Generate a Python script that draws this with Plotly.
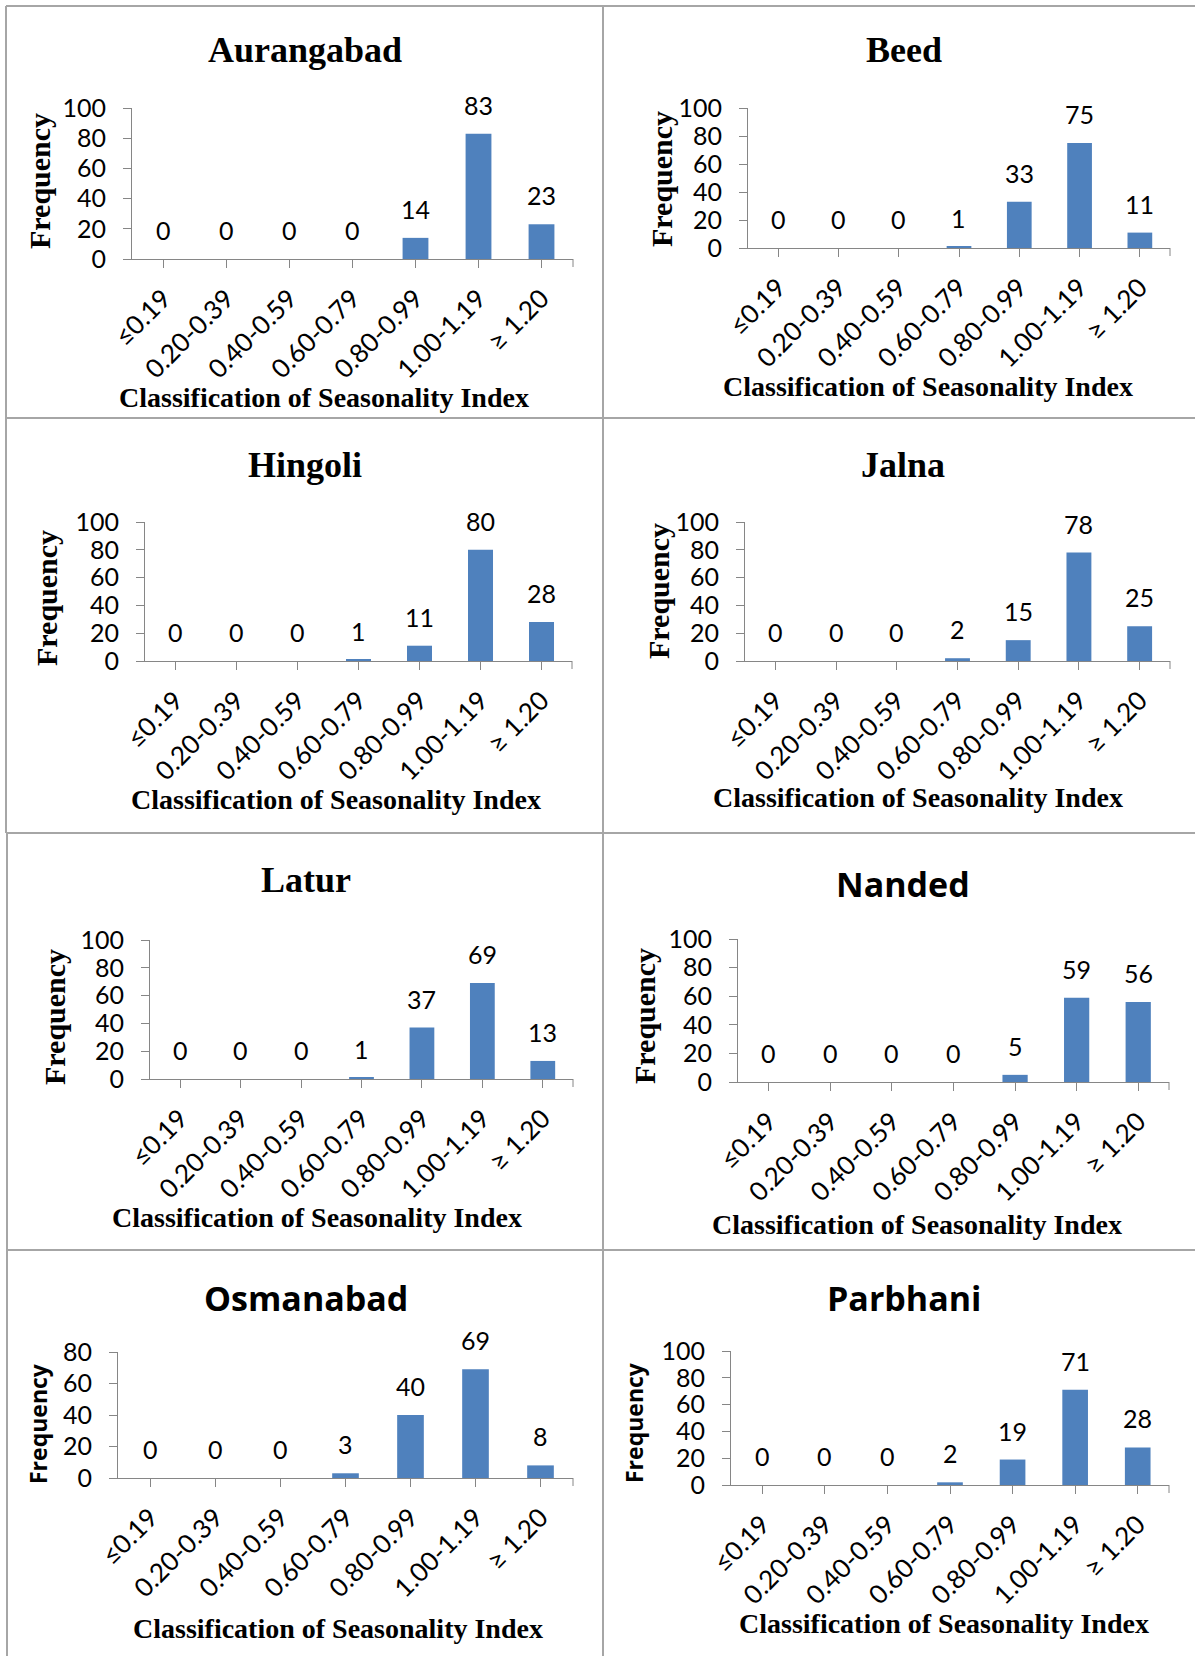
import plotly.graph_objects as go

# ---- data -------------------------------------------------------------
categories = ["≤0.19", "0.20-0.39", "0.40-0.59", "0.60-0.79",
              "0.80-0.99", "1.00-1.19", "≥ 1.20"]

districts = ["Aurangabad", "Beed", "Hingoli", "Jalna",
             "Latur", "Nanded", "Osmanabad", "Parbhani"]

aurangabad = [0, 0, 0, 0, 14, 83, 23]
beed = [0, 0, 0, 1, 33, 75, 11]
hingoli = [0, 0, 0, 1, 11, 80, 28]
jalna = [0, 0, 0, 2, 15, 78, 25]
latur = [0, 0, 0, 1, 37, 69, 13]
nanded = [0, 0, 0, 0, 5, 59, 56]
osmanabad = [0, 0, 0, 3, 40, 69, 8]
parbhani = [0, 0, 0, 2, 19, 71, 28]

series = [aurangabad, beed, hingoli, jalna, latur, nanded, osmanabad, parbhani]
y_max = [100, 100, 100, 100, 100, 100, 80, 100]

x_title = "Classification of Seasonality Index"
y_title = "Frequency"

# ---- page geometry (pixels) ------------------------------------------
W, H = 1195, 1656

# plot area per panel: left, right, top (y max), bottom (y = 0)
plot_box = [
    (132, 573, 108, 259),
    (748, 1170, 108, 248),
    (145, 572, 522, 661),
    (745, 1170, 522, 661),
    (150, 573, 940, 1079),
    (738, 1169, 939, 1082),
    (118, 573, 1352, 1478),
    (731, 1169, 1351, 1485),
]
# centre of panel title, y-title, x-title
title_pos = [(305, 50), (904, 50), (305, 465), (903, 465),
             (306, 880), (903, 884), (306, 1298), (904, 1298)]
ytitle_pos = [(39, 181), (661, 179), (46, 598), (659, 591),
              (55, 1017), (645, 1016), (38, 1424), (634, 1423)]
xtitle_pos = [(324, 397), (928, 386), (336, 800), (918, 798),
              (317, 1217), (917, 1224), (338, 1628), (944, 1623)]
sans_title = [False, False, False, False, False, True, True, True]
sans_ytitle = [False, False, False, False, False, False, True, True]

SERIF = "Liberation Serif"
SANS = "Lato"
SANS_BOLD = "Open Sans"
BAR = "#4F81BD"
AXIS = "#868686"
RULE = "#a6a6a6"


def px(x):
    return x / W


def py(y):
    return 1 - y / H


fig = go.Figure()
annotations = []
shapes = []
layout = {}

for i, (name, vals) in enumerate(zip(districts, series)):
    suf = "" if i == 0 else str(i + 1)
    xa, ya = "x" + suf, "y" + suf
    l, r, t, b = plot_box[i]

    fig.add_trace(go.Bar(
        x=categories, y=vals, xaxis=xa, yaxis=ya,
        marker=dict(color=BAR, line=dict(width=0)),
        width=0.41, showlegend=False, hoverinfo="skip",
    ))

    layout["xaxis" + suf] = dict(
        domain=[px(l), px(r)], anchor=ya, automargin=False,
        type="category", range=[-0.5, 6.5],
        showline=True, linecolor=AXIS, linewidth=1,
        ticks="outside", ticklen=8, tickcolor=AXIS, tickwidth=1,
        tickangle=-45, ticklabelstandoff=5,
        tickfont=dict(family=SANS, size=26, color="#000000"),
        showgrid=False, zeroline=False, fixedrange=True,
    )
    layout["yaxis" + suf] = dict(
        domain=[py(b), py(t)], anchor=xa, automargin=False,
        range=[0, y_max[i]], dtick=20, tick0=0,
        showline=True, linecolor=AXIS, linewidth=1,
        ticks="outside", ticklen=8, tickcolor=AXIS, tickwidth=1,
        ticklabelstandoff=12,
        tickfont=dict(family=SANS, size=25, color="#000000"),
        showgrid=False, zeroline=False, fixedrange=True,
    )

    # closing tick at the right end of the category axis
    shapes.append(dict(type="line", xref="paper", yref="paper",
                       x0=px(r), x1=px(r), y0=py(b), y1=py(b + 8),
                       line=dict(color=AXIS, width=1)))

    # value labels above each bar
    for c, v in zip(categories, vals):
        annotations.append(dict(
            x=c, y=v, xref=xa, yref=ya, text=str(v), showarrow=False,
            yanchor="middle", yshift=29,
            font=dict(family=SANS, size=25, color="#000000"),
        ))

    # panel title
    tx, ty = title_pos[i]
    annotations.append(dict(
        x=px(tx), y=py(ty), xref="paper", yref="paper",
        text="<b>%s</b>" % name, showarrow=False,
        xanchor="center", yanchor="middle",
        font=dict(family=SANS_BOLD if sans_title[i] else SERIF,
                  size=34 if sans_title[i] else 36, color="#000000"),
    ))
    # y-axis title
    yx, yy = ytitle_pos[i]
    annotations.append(dict(
        x=px(yx), y=py(yy), xref="paper", yref="paper",
        text="<b>%s</b>" % y_title, showarrow=False, textangle=-90,
        xanchor="center", yanchor="middle",
        font=dict(family=SANS_BOLD if sans_ytitle[i] else SERIF,
                  size=23 if sans_ytitle[i] else 30, color="#000000"),
    ))
    # x-axis title
    xx, xy = xtitle_pos[i]
    annotations.append(dict(
        x=px(xx), y=py(xy), xref="paper", yref="paper",
        text="<b>%s</b>" % x_title, showarrow=False,
        xanchor="center", yanchor="middle",
        font=dict(family=SERIF, size=28, color="#000000"),
    ))

# table rules separating the eight panels
rules = [
    (6, 6, 6, 833),          # left border, upper half
    (7, 7, 833, H),          # left border, lower half
    (603, 603, 6, H),        # centre divider
    (6, W, 6, 6),            # top
    (6, W, 418, 418),
    (6, W, 833, 833),
    (6, W, 1250, 1250),
]
for x0, x1, y0, y1 in rules:
    shapes.append(dict(type="line", xref="paper", yref="paper",
                       x0=px(x0), x1=px(x1), y0=py(y0), y1=py(y1),
                       line=dict(color=RULE, width=2)))

fig.update_layout(
    width=W, height=H, autosize=False,
    margin=dict(l=0, r=0, t=0, b=0, pad=0, autoexpand=False),
    paper_bgcolor="white", plot_bgcolor="white",
    bargap=0.59,
    annotations=annotations, shapes=shapes,
    **layout,
)

fig.write_html("out.html")
